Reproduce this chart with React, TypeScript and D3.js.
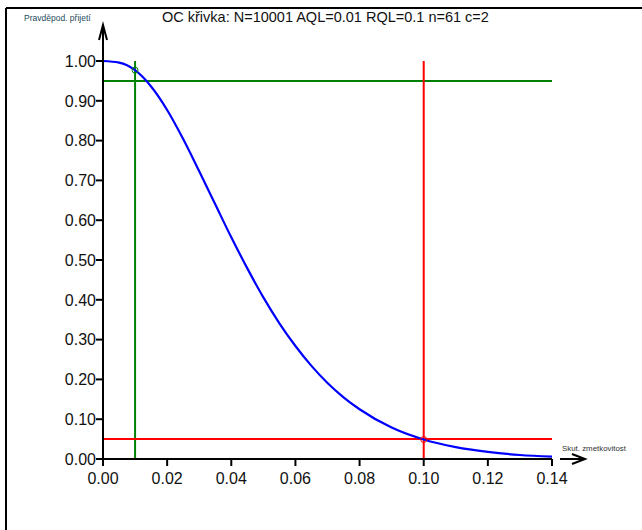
import React, { useRef, useEffect } from "react";
import * as d3 from "d3";

// proportion defective
const pValues = [0, 0.005, 0.01, 0.015, 0.02, 0.025, 0.03, 0.035, 0.04, 0.045, 0.05, 0.055, 0.06, 0.065, 0.07, 0.075, 0.08, 0.09, 0.1, 0.11, 0.12, 0.13, 0.14];
// probability of acceptance
const paValues = [1.0, 0.996, 0.977, 0.936, 0.877, 0.804, 0.723, 0.64, 0.557, 0.479, 0.406, 0.341, 0.284, 0.234, 0.191, 0.155, 0.125, 0.079, 0.049, 0.03, 0.018, 0.01, 0.006];

const xTicks = [0, 0.02, 0.04, 0.06, 0.08, 0.1, 0.12, 0.14];
const yTicks = [0, 0.1, 0.2, 0.3, 0.4, 0.5, 0.6, 0.7, 0.8, 0.9, 1.0];

const aql = 0.01;
const rql = 0.1;
const alphaLevel = 0.95;
const betaLevel = 0.05;

const title = "OC křivka: N=10001 AQL=0.01 RQL=0.1 n=61 c=2";

const App = () => {
  const svgRef = useRef<SVGSVGElement>(null);

  useEffect(() => {
    const svg = d3.select(svgRef.current);
    svg.selectAll("*").remove();

    const font = "Arial, 'Liberation Sans', sans-serif";
    const x = d3.scaleLinear().domain([0, 0.14]).range([103, 552]);
    const y = d3.scaleLinear().domain([0, 1]).range([459, 61]);

    // frame lines (top + left)
    svg.append("line").attr("x1", 6).attr("x2", 642).attr("y1", 8).attr("y2", 8)
      .attr("stroke", "#000").attr("stroke-width", 2);
    svg.append("line").attr("x1", 6).attr("x2", 6).attr("y1", 8).attr("y2", 530)
      .attr("stroke", "#000").attr("stroke-width", 2);

    svg.append("text").attr("x", 162).attr("y", 22)
      .attr("font-family", font).attr("font-size", 14.5).attr("fill", "#111")
      .text(title);

    svg.append("text").attr("x", 24).attr("y", 21)
      .attr("font-family", font).attr("font-size", 8.5).attr("fill", "#1d4b5a")
      .text("Pravděpod. přijetí");
    svg.append("text").attr("x", 562).attr("y", 451)
      .attr("font-family", font).attr("font-size", 8).attr("fill", "#333")
      .attr("textLength", 64).attr("lengthAdjust", "spacingAndGlyphs")
      .text("Skut. zmetkovitost");

    // reference lines
    const g = svg.append("g");
    g.append("line").attr("x1", x(aql)).attr("x2", x(aql)).attr("y1", y(0)).attr("y2", y(1))
      .attr("stroke", "#008000").attr("stroke-width", 2);
    g.append("line").attr("x1", x(0)).attr("x2", x(0.14)).attr("y1", y(alphaLevel)).attr("y2", y(alphaLevel))
      .attr("stroke", "#008000").attr("stroke-width", 2);
    g.append("line").attr("x1", x(rql)).attr("x2", x(rql)).attr("y1", y(0)).attr("y2", y(1))
      .attr("stroke", "#ff0000").attr("stroke-width", 2);
    g.append("line").attr("x1", x(0)).attr("x2", x(0.14)).attr("y1", y(betaLevel)).attr("y2", y(betaLevel))
      .attr("stroke", "#ff0000").attr("stroke-width", 2);

    // OC curve
    const data = pValues.map((p, i) => [p, paValues[i]] as [number, number]);
    svg.append("path").datum(data)
      .attr("fill", "none").attr("stroke", "#0000ff").attr("stroke-width", 2.2)
      .attr("d", d3.line<[number, number]>().x(d => x(d[0])).y(d => y(d[1])).curve(d3.curveMonotoneX));

    svg.append("circle").attr("cx", x(aql)).attr("cy", y(paValues[2])).attr("r", 3)
      .attr("fill", "none").attr("stroke", "#008000").attr("stroke-width", 1);
    svg.append("circle").attr("cx", x(rql)).attr("cy", y(paValues[18])).attr("r", 3)
      .attr("fill", "none").attr("stroke", "#ff0000").attr("stroke-width", 1);

    // axes
    const ax = svg.append("g").attr("stroke", "#000").attr("stroke-width", 2);
    ax.append("line").attr("x1", x(0)).attr("x2", x(0)).attr("y1", y(0) + 1).attr("y2", 25);
    ax.append("path").attr("fill", "none")
      .attr("d", `M${x(0) - 4},40 L${x(0)},25 L${x(0) + 4},40`);
    ax.append("line").attr("x1", x(0) - 1).attr("x2", x(0.14)).attr("y1", y(0)).attr("y2", y(0));
    ax.append("line").attr("x1", 560).attr("x2", 585).attr("y1", y(0)).attr("y2", y(0));
    ax.append("path").attr("fill", "none")
      .attr("d", `M572,${y(0) - 5} L585,${y(0)} L572,${y(0) + 5}`);

    yTicks.forEach(t => {
      ax.append("line").attr("x1", x(0) - 7).attr("x2", x(0)).attr("y1", y(t)).attr("y2", y(t));
      svg.append("text").attr("x", 96).attr("y", y(t)).attr("dy", "0.36em")
        .attr("text-anchor", "end").attr("font-family", font).attr("font-size", 16).attr("fill", "#111")
        .text(d3.format(".2f")(t));
    });
    xTicks.forEach(t => {
      ax.append("line").attr("x1", x(t)).attr("x2", x(t)).attr("y1", y(0)).attr("y2", y(0) + 7);
      svg.append("text").attr("x", x(t)).attr("y", 484)
        .attr("text-anchor", "middle").attr("font-family", font).attr("font-size", 16).attr("fill", "#111")
        .text(d3.format(".2f")(t));
    });
  }, []);

  return <svg ref={svgRef} width={642} height={530} style={{ position: "absolute", left: 0, top: 0, background: "#fff" }} />;
};

export default App;
